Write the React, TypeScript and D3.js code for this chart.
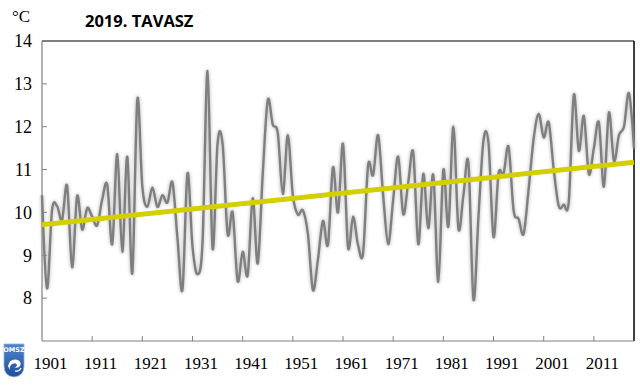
import React from 'react';
import * as d3 from 'd3';

// spring mean temperature, 1901-2019
const years = d3.range(1901, 2020);
const temps = [
  10.4, 8.23, 10.05, 10.15, 9.82, 10.62, 8.72, 10.38, 9.6, 10.1,
  9.9, 9.7, 10.3, 10.65, 9.26, 11.36, 9.08, 11.3, 8.58, 12.64,
  10.6, 10.13, 10.58, 10.13, 10.4, 10.23, 10.7, 9.4, 8.2, 10.91,
  9.2, 8.56, 9.3, 13.3, 9.16, 11.62, 11.6, 9.5, 10.0, 8.4,
  9.08, 8.54, 10.33, 8.81, 10.9, 12.62, 12.05, 11.85, 10.43, 11.8,
  10.4, 9.95, 10.05, 9.5, 8.19, 8.9, 9.8, 9.25, 11.05, 10.0,
  11.6, 9.19, 9.9, 9.24, 9.05, 11.1, 10.87, 11.8, 10.4, 9.26,
  10.3, 11.3, 9.96, 10.7, 11.4, 9.26, 10.9, 9.63, 10.87, 8.38,
  10.99, 9.67, 12.0, 9.63, 10.4, 11.15, 7.97, 9.9, 11.68, 11.62,
  9.43, 10.9, 10.9, 11.53, 10.05, 9.85, 9.5, 10.55, 11.72, 12.3,
  11.75, 12.1, 11.0, 10.15, 10.18, 10.25, 12.74, 11.44, 12.25, 10.9,
  11.5, 12.1, 10.6, 12.33, 11.2, 11.8, 12.0, 12.78, 11.5,
];
// linear trend, first and last year
const trendYears = [1901, 2019];
const trendValues = [9.71, 11.17];

const yTicks = [8, 9, 10, 11, 12, 13, 14];
const xLabels = d3.range(1901, 2012, 10);
const xTicks = d3.range(1911, 2012, 10);

const W = 640;
const H = 391;
const serif = 'Liberation Serif';

export default function App() {
  const left = 42, right = 634, top = 41, bottom = 341;
  const x = d3.scaleLinear().domain([1901, 2019]).range([left, right]);
  const y = d3.scaleLinear().domain([7, 14]).range([bottom, top]);

  const pts = years.map((yr, i) => [yr, temps[i]] as [number, number]);
  const line = d3
    .line<[number, number]>()
    .x(d => x(d[0]))
    .y(d => y(d[1]))
    .curve(d3.curveCardinal.tension(0));
  const path = line(pts) || '';

  const trend = line.curve(d3.curveLinear)(
    trendYears.map((yr, i) => [yr, trendValues[i]] as [number, number])
  ) || '';

  return (
    <svg width={W} height={H} style={{ position: 'absolute', left: 0, top: 0, background: '#fff' }}>
      <defs>
        <filter id="glow" x="-5%" y="-10%" width="110%" height="120%">
          <feGaussianBlur stdDeviation="1.8" />
        </filter>
        <linearGradient id="logo" x1="0" y1="0" x2="0" y2="1">
          <stop offset="0" stopColor="#4f86cc" />
          <stop offset="1" stopColor="#1d4f9a" />
        </linearGradient>
      </defs>

      {/* title and unit */}
      <text x={12} y={22} fontFamily={serif} fontSize={17}>°C</text>
      <text x={85} y={27} fontFamily="Open Sans" fontWeight="bold" fontSize={16.5}>2019. TAVASZ</text>

      {/* frame */}
      <line x1={left} x2={right} y1={top} y2={top} stroke="#000" strokeWidth={1.2} />
      <line x1={right} x2={right} y1={top} y2={bottom} stroke="#000" strokeWidth={1.5} />
      <line x1={left} x2={left} y1={top} y2={bottom} stroke="#808080" strokeWidth={1.2} />
      <line x1={left} x2={right} y1={bottom} y2={bottom} stroke="#808080" strokeWidth={1.2} />

      {yTicks.map(t => (
        <g key={t}>
          {t < 14 && <line x1={left} x2={left + 5} y1={y(t)} y2={y(t)} stroke="#808080" />}
          <text x={32} y={y(t)} dy="0.35em" textAnchor="end" fontFamily={serif} fontSize={18}>
            {t}
          </text>
        </g>
      ))}
      {xTicks.map(t => (
        <line key={t} x1={x(t)} x2={x(t)} y1={bottom} y2={bottom - 5} stroke="#808080" />
      ))}
      {xLabels.map(t => (
        <text key={t} x={x(t) + 8.5} y={369} textAnchor="middle" fontFamily={serif} fontSize={17}>
          {t}
        </text>
      ))}

      {/* series */}
      <path d={path} fill="none" stroke="#a0a0a0" strokeWidth={4.5} opacity={0.45} filter="url(#glow)" />
      <path d={path} fill="none" stroke="#7f7f7f" strokeWidth={2.4} />
      <path d={trend} fill="none" stroke="#d4cf00" strokeWidth={5} />

      {/* OMSZ logo */}
      <g>
        <path d="M4,344 h20 v22 q0,10 -10,11 q-10,-1 -10,-11 z" fill="url(#logo)" stroke="#8fb0dd" strokeWidth={0.8} />
        <text x={14} y={352} textAnchor="middle" fontFamily="DejaVu Sans" fontWeight="bold" fontSize={6.5} fill="#fff">OMSZ</text>
        <path d="M8,366 q2,-8 10,-6 q4,2 2,6 q-2,3 -6,1 q3,0 3,-2 q-1,-3 -5,-1 q-3,2 -2,6 z" fill="#fff" />
        <path d="M15,371 q4,1 6,-3" fill="none" stroke="#fff" strokeWidth={1.2} />
      </g>
    </svg>
  );
}
